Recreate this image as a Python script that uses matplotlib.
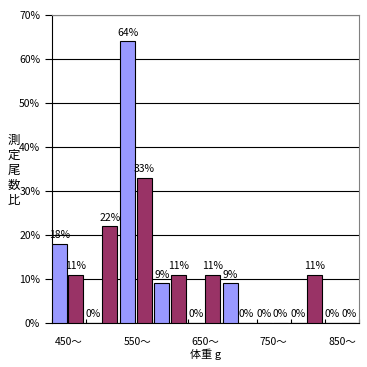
import numpy as np
import matplotlib.pyplot as plt

plt.rcParams['font.family'] = ['Noto Sans CJK JP', 'DejaVu Sans']

categories = ['450～', '500～', '550～', '600～', '650～', '700～', '750～', '800～', '850～']
series_a = [18, 0, 64, 9, 0, 9, 0, 0, 0]
series_b = [11, 22, 33, 11, 11, 0, 0, 11, 0]
yticks = [0, 10, 20, 30, 40, 50, 60, 70]
ylabel_text = '測定尾数比'

fig = plt.figure(figsize=(3.67, 3.67), dpi=100)
ax = fig.add_axes([52 / 367, (367 - 323) / 367, 307 / 367, 308 / 367])

x = np.arange(len(categories))
w = 0.44
ax.bar(x - 0.5 + w / 2, series_a, w, color='#9999FF', edgecolor='black', linewidth=0.8, zorder=3)
ax.bar(x - 0.02 + w / 2, series_b, w, color='#993366', edgecolor='black', linewidth=0.8, zorder=3)

for i in range(len(categories)):
    ax.text(x[i] - 0.5 + w / 2, series_a[i] + 0.8, f'{series_a[i]}%', ha='center', va='bottom', fontsize=7.5)
    ax.text(x[i] - 0.02 + w / 2, series_b[i] + 0.8, f'{series_b[i]}%', ha='center', va='bottom', fontsize=7.5)

ax.set_xlim(-0.5, len(categories) - 0.5)
ax.set_ylim(0, 70)
ax.set_yticks(yticks)
ax.set_yticklabels([f'{v}%' for v in yticks], fontsize=7.5)
ax.yaxis.grid(True, color='black', linewidth=0.8, zorder=0)
ax.tick_params(axis='y', length=5, width=0.8, direction='out')

# category boundary ticks, labels on every other category
ax.set_xticks(np.arange(len(categories) + 1) - 0.5)
ax.set_xticklabels([])
ax.tick_params(axis='x', length=3, width=0.8, direction='in')
ax.set_xticks(x[::2], minor=True)
ax.set_xticklabels(categories[::2], minor=True, fontsize=7.5)
ax.tick_params(axis='x', which='minor', length=0, pad=10)

for s in ['top', 'right']:
    ax.spines[s].set_color('#808080')
for s in ['left', 'bottom']:
    ax.spines[s].set_color('black')

ax.set_xlabel('体重 g', fontsize=8, labelpad=1)

# vertical (stacked) y label
for k, ch in enumerate(ylabel_text):
    fig.text(14 / 367, 1 - (140 + 15 * k) / 367, ch, fontsize=9, ha='center', va='center')

fig.savefig('out.png', dpi=100)
